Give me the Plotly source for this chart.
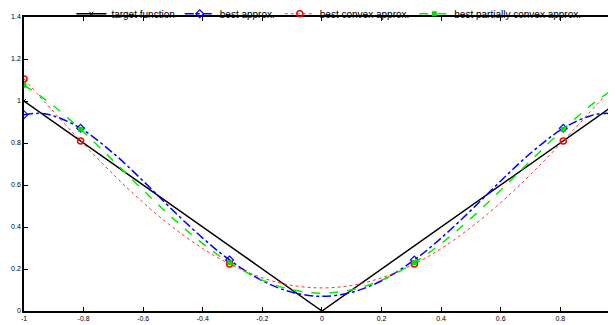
import plotly.graph_objects as go

# x grid (symmetric)
xs = [-1.0, -0.95, -0.9, -0.81, -0.7, -0.6, -0.5, -0.4, -0.31, -0.2, -0.1, 0.0,
      0.1, 0.2, 0.31, 0.4, 0.5, 0.6, 0.7, 0.81, 0.9, 0.95, 1.0]

target_x = [-1.0, 0.0, 1.0]
target_y = [1.0, 0.0, 1.0]

best_half = [0.070, 0.089, 0.144, 0.243, 0.347, 0.479, 0.619, 0.751, 0.870, 0.929, 0.941, 0.935]
convex_half = [0.110, 0.122, 0.158, 0.224, 0.297, 0.398, 0.516, 0.650, 0.810, 0.948, 1.026, 1.105]
partial_half = [0.085, 0.101, 0.147, 0.230, 0.321, 0.441, 0.575, 0.715, 0.865, 0.976, 1.029, 1.075]

names = ["target function", "best approx.", "best convex approx.", "best partially convex approx."]

def sym(h):
    return h[::-1] + h[1:]

best_y = sym(best_half)
convex_y = sym(convex_half)
partial_y = sym(partial_half)

node_x = [-1.0, -0.81, -0.31, 0.31, 0.81, 1.0]

def nodes(ys):
    return [y for x, y in zip(xs, ys) if x in node_x]

styles = [
    dict(line=dict(color="black", width=1.5), marker=dict(symbol="x-thin", size=4, color="black", line=dict(width=1, color="black"))),
    dict(line=dict(color="#0000ff", width=1.5, dash="dashdot"), marker=dict(symbol="diamond-open", size=6, color="#0000ff", line=dict(width=1.2))),
    dict(line=dict(color="#ff3030", width=1, dash="dot"), marker=dict(symbol="circle-open", size=6, color="#ff0000", line=dict(width=1.5))),
    dict(line=dict(color="#00ee00", width=1.5, dash="dash"), marker=dict(symbol="square", size=5, color="#00dd00")),
]

fig = go.Figure()
# target
fig.add_trace(go.Scatter(x=target_x, y=target_y, mode="lines+markers", showlegend=False,
                         line=styles[0]["line"], marker=styles[0]["marker"]))
for i, ys in zip([1, 2, 3], [best_y, convex_y, partial_y]):
    ln = dict(styles[i]["line"])
    ln["shape"] = "spline"
    fig.add_trace(go.Scatter(x=xs, y=ys, mode="lines", showlegend=False, line=ln, hoverinfo="skip"))
    fig.add_trace(go.Scatter(x=node_x, y=nodes(ys), mode="markers", showlegend=False, marker=styles[i]["marker"]))
# legend entries
for i, nm in enumerate(names):
    fig.add_trace(go.Scatter(x=[None], y=[None], mode="lines+markers", name=nm,
                             line=styles[i]["line"], marker=styles[i]["marker"]))

axis_common = dict(showline=True, linecolor="black", linewidth=1.5, mirror="ticks",
                   ticks="inside", ticklen=4, tickcolor="black", showgrid=False, zeroline=False,
                   automargin=False,
                   tickfont=dict(family="Liberation Sans, Arial", size=7, color="black"))

fig.update_xaxes(range=[-1, 0.987], tickvals=[-1, -0.8, -0.6, -0.4, -0.2, 0, 0.2, 0.4, 0.6, 0.8, 1],
                 ticktext=["-1", "-0.8", "-0.6", "-0.4", "-0.2", "0", "0.2", "0.4", "0.6", "0.8", "1"],
                 **axis_common)
fig.update_yaxes(range=[0, 1.4], tickvals=[0, 0.2, 0.4, 0.6, 0.8, 1, 1.2, 1.4],
                 ticktext=["0", "0.2", "0.4", "0.6", "0.8", "1", "1.2", "1.4"], **axis_common)

# page body adds an 8px offset, so the figure is sized to fit the window
fig.update_layout(width=608, height=317, margin=dict(l=16, r=0, t=9, b=14, autoexpand=False),
                  paper_bgcolor="white", plot_bgcolor="white",
                  font=dict(family="Liberation Sans, Arial", color="black"),
                  showlegend=True,
                  legend=dict(orientation="h",
                              x=0.515, xanchor="center", y=1.011, yanchor="middle",
                              font=dict(size=10), itemwidth=30, bgcolor="rgba(0,0,0,0)",
                              tracegroupgap=0))

fig.write_html("out.html")
